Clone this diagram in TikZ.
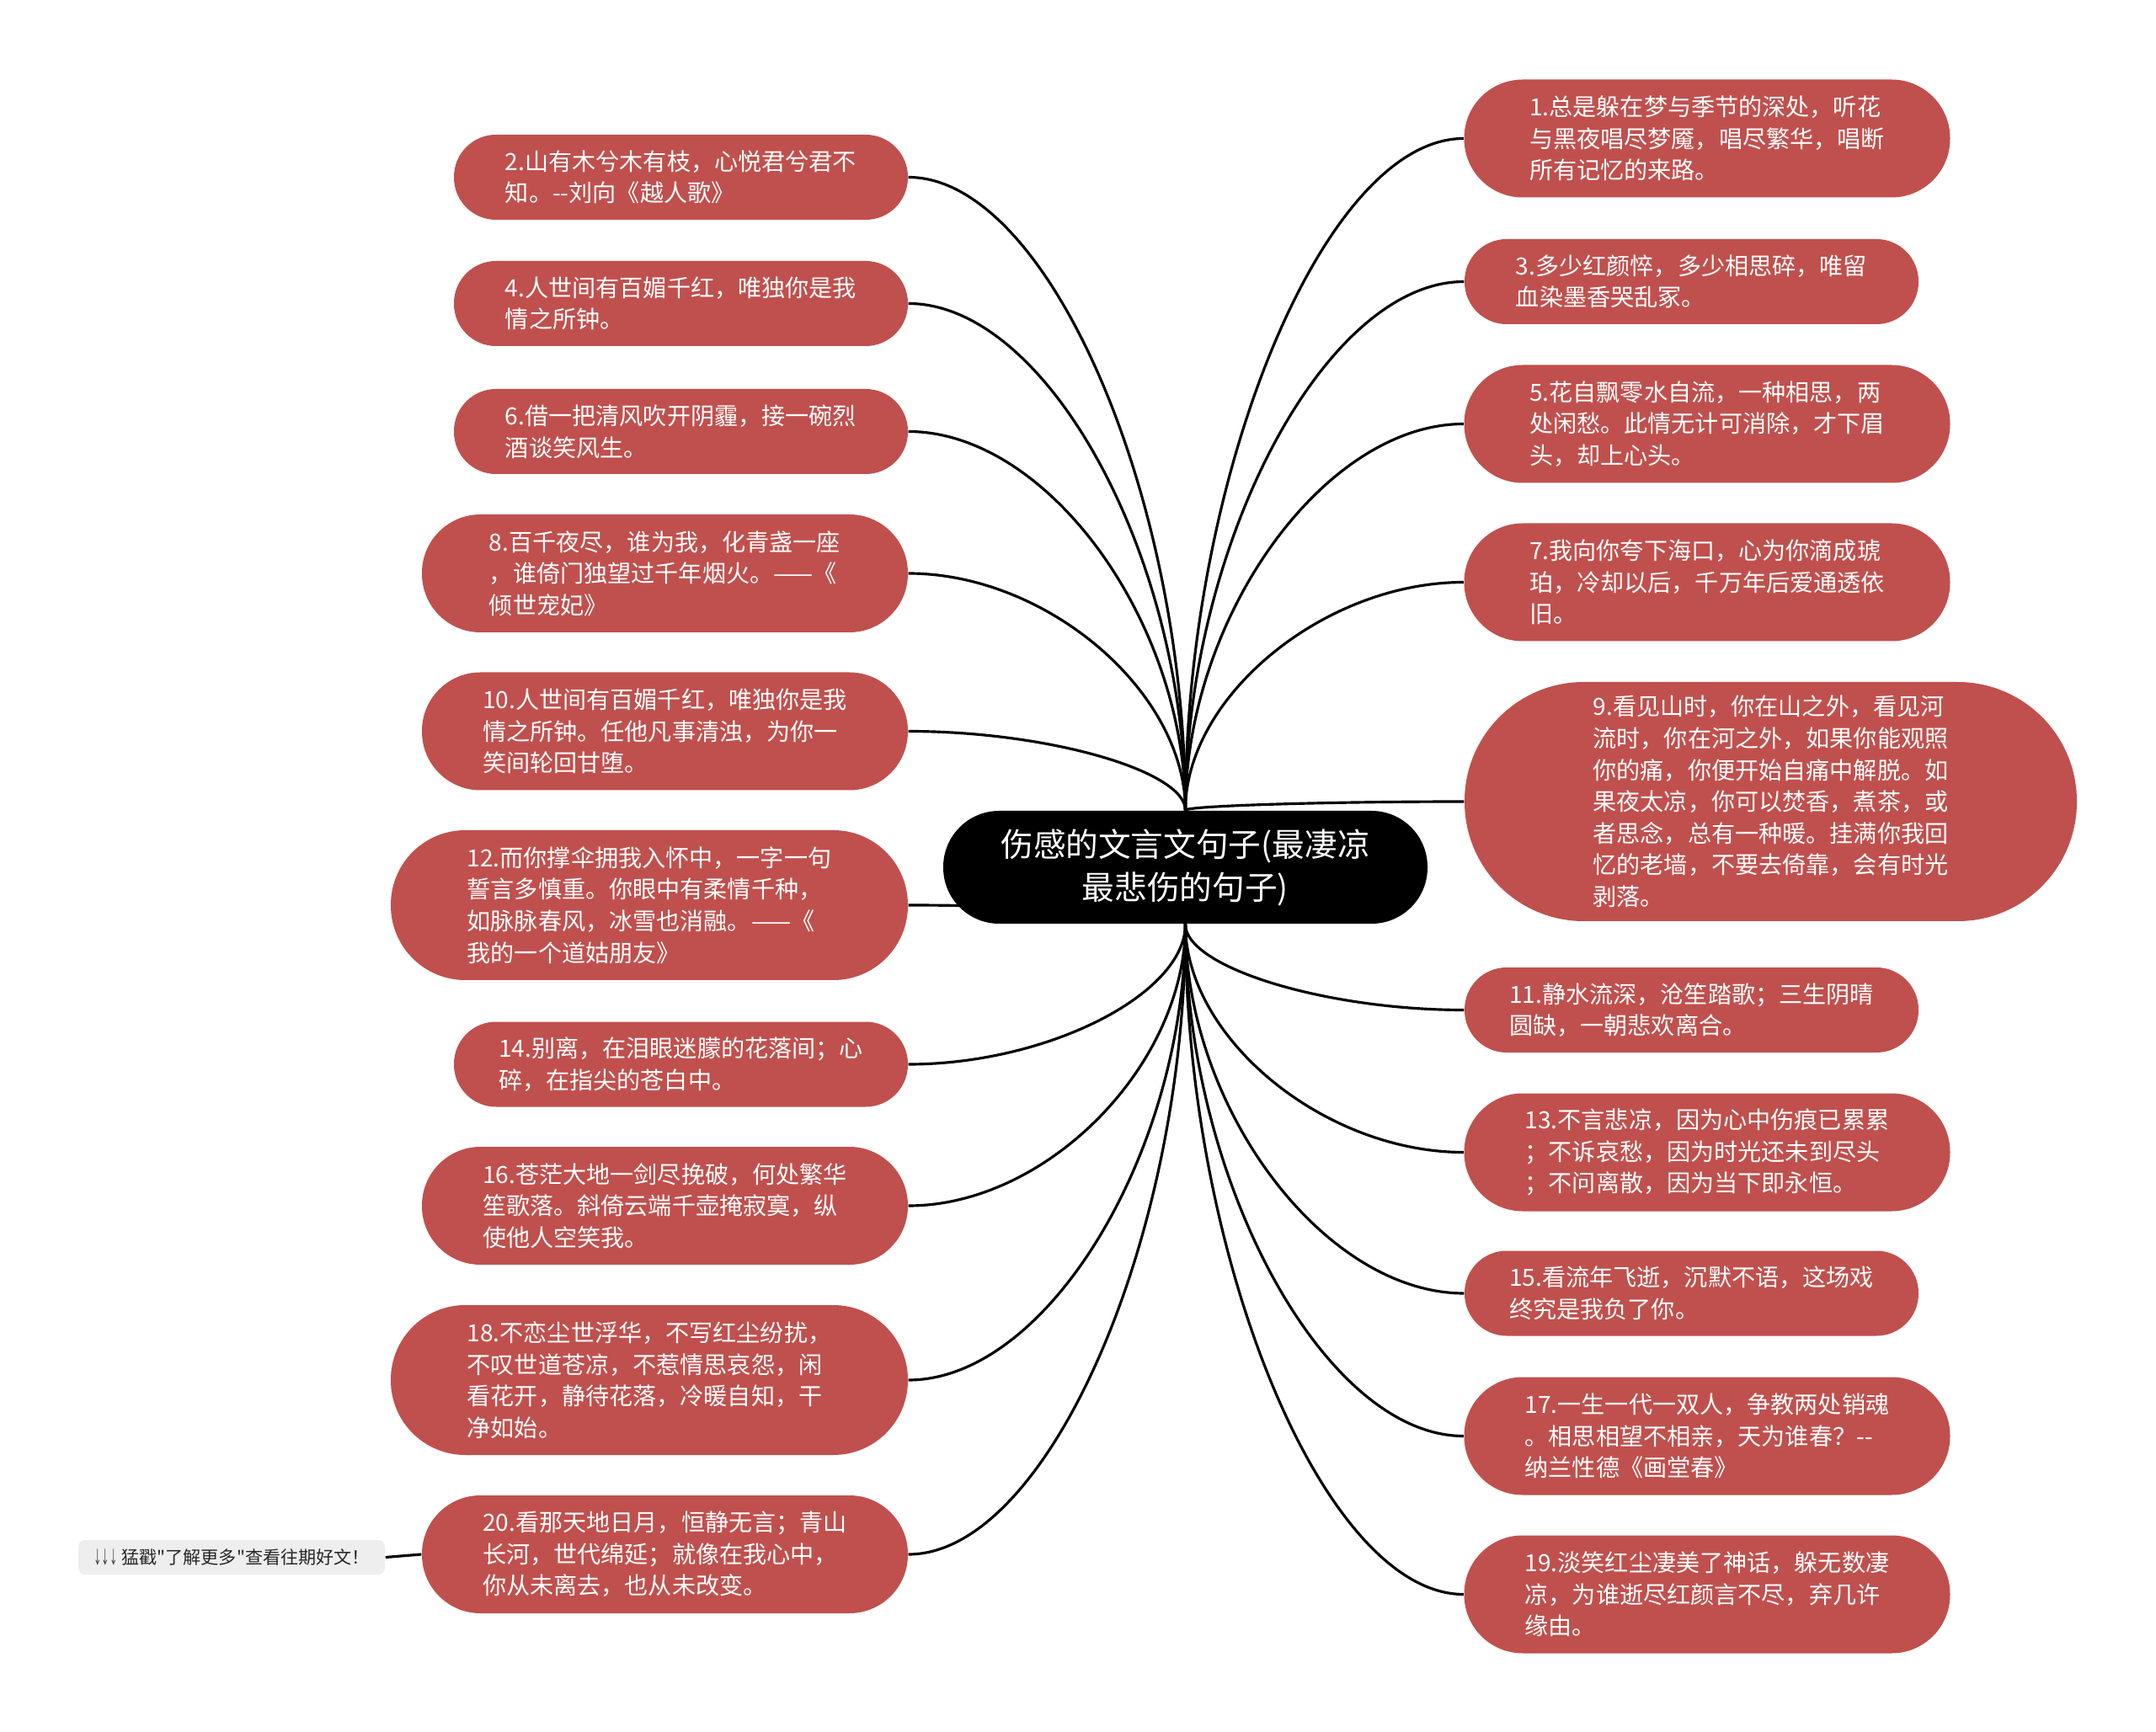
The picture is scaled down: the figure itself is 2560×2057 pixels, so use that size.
\documentclass[tikz,border=0pt]{standalone}
\usepackage{fontspec}
\usepackage{graphicx}
\newfontfamily\cjk{Noto Sans CJK SC}
\usetikzlibrary{calc,backgrounds}
\definecolor{leafred}{HTML}{C0504D}
\definecolor{tipgrey}{HTML}{EEEEEE}
\tikzset{
  leaf/.style={fill=leafred, text=white, align=left, inner sep=0pt,
    font=\cjk\fontsize{8}{10.7}\selectfont},
  smallpill/.style={leaf, minimum width=53.9mm, minimum height=10.1mm, rounded corners=5mm},
  medpill/.style={leaf, minimum width=57.7mm, minimum height=14mm, rounded corners=6.95mm},
  bigpill/.style={leaf, minimum width=61.4mm, minimum height=17.8mm, rounded corners=8.85mm},
  hugepill/.style={leaf, minimum width=72.7mm, minimum height=28.4mm, rounded corners=14.15mm},
  rootnode/.style={fill=black, text=white, align=center, inner sep=0pt,
    minimum width=57.5mm, minimum height=13.4mm, rounded corners=6.65mm,
    font=\cjk\fontsize{11}{14.5}\selectfont},
  tipnode/.style={fill=tipgrey, text=black!85, inner sep=0pt, minimum width=36.4mm,
    minimum height=4.1mm, rounded corners=0.8mm, font=\cjk\fontsize{6}{7}\selectfont},
  edge/.style={draw=black, line width=0.9pt},
}
\newcommand{\conn}[2]{\draw[edge] (#1) .. controls ($(#1)!0.5!(#1 |- #2)$) and ($(#2)!0.5!(#1 |- #2)$) .. (#2);}
\begin{document}
\begin{tikzpicture}[x=0.1mm, y=-0.1mm]
\useasboundingbox (0,0) rectangle (2560,2057);

% root
\node[rootnode] (root) at (1407.5,1030) {伤感的文言文句子(最凄凉\\最悲伤的句子)};

% left column
\node[smallpill] (n2) at (808.5,210.5) {2.山有木兮木有枝，心悦君兮君不\\知。--刘向《越人歌》};
\node[smallpill] (n4) at (808.5,360.5) {4.人世间有百媚千红，唯独你是我\\情之所钟。};
\node[smallpill] (n6) at (808.5,512.5) {6.借一把清风吹开阴霾，接一碗烈\\酒谈笑风生。};
\node[medpill] (n8) at (789.5,681) {8.百千夜尽，谁为我，化青盏一座\\，谁倚门独望过千年烟火。——《\\倾世宠妃》};
\node[medpill] (n10) at (789.5,868.5) {10.人世间有百媚千红，唯独你是我\\情之所钟。任他凡事清浊，为你一\\笑间轮回甘堕。};
\node[bigpill] (n12) at (771,1075) {12.而你撑伞拥我入怀中，一字一句\\誓言多慎重。你眼中有柔情千种，\\如脉脉春风，冰雪也消融。——《\\我的一个道姑朋友》};
\node[smallpill] (n14) at (808.5,1264) {14.别离，在泪眼迷朦的花落间；心\\碎，在指尖的苍白中。};
\node[medpill] (n16) at (789.5,1432) {16.苍茫大地一剑尽挽破，何处繁华\\笙歌落。斜倚云端千壶掩寂寞，纵\\使他人空笑我。};
\node[bigpill] (n18) at (771,1639) {18.不恋尘世浮华，不写红尘纷扰，\\不叹世道苍凉，不惹情思哀怨，闲\\看花开，静待花落，冷暖自知，干\\净如始。};
\node[medpill] (n20) at (789.5,1846) {20.看那天地日月，恒静无言；青山\\长河，世代绵延；就像在我心中，\\你从未离去，也从未改变。};
\node[tipnode] (tip) at (275,1849.5) {\scalebox{0.45}[1]{↓↓↓} 猛戳"了解更多"查看往期好文！};

% right column
\node[medpill] (n1) at (2027,164.5) {1.总是躲在梦与季节的深处，听花\\与黑夜唱尽梦魇，唱尽繁华，唱断\\所有记忆的来路。};
\node[smallpill] (n3) at (2008.5,334.5) {3.多少红颜悴，多少相思碎，唯留\\血染墨香哭乱冢。};
\node[medpill] (n5) at (2027,503.5) {5.花自飘零水自流，一种相思，两\\处闲愁。此情无计可消除，才下眉\\头，却上心头。};
\node[medpill] (n7) at (2027,691.5) {7.我向你夸下海口，心为你滴成琥\\珀，冷却以后，千万年后爱通透依\\旧。};
\node[hugepill] (n9) at (2102.5,952) {9.看见山时，你在山之外，看见河\\流时，你在河之外，如果你能观照\\你的痛，你便开始自痛中解脱。如\\果夜太凉，你可以焚香，煮茶，或\\者思念，总有一种暖。挂满你我回\\忆的老墙，不要去倚靠，会有时光\\剥落。};
\node[smallpill] (n11) at (2008.5,1199.5) {11.静水流深，沧笙踏歌；三生阴晴\\圆缺，一朝悲欢离合。};
\node[medpill] (n13) at (2027,1368.5) {13.不言悲凉，因为心中伤痕已累累\\；不诉哀愁，因为时光还未到尽头\\；不问离散，因为当下即永恒。};
\node[smallpill] (n15) at (2008.5,1536) {15.看流年飞逝，沉默不语，这场戏\\终究是我负了你。};
\node[medpill] (n17) at (2027,1705.5) {17.一生一代一双人，争教两处销魂\\。相思相望不相亲，天为谁春？--\\纳兰性德《画堂春》};
\node[medpill] (n19) at (2027,1893.5) {19.淡笑红尘凄美了神话，躲无数凄\\凉，为谁逝尽红颜言不尽，弃几许\\缘由。};

\begin{pgfonlayer}{background}
  \fill[white] (0,0) rectangle (2560,2057);
  \conn{root.north}{n2.east}
  \conn{root.north}{n4.east}
  \conn{root.north}{n6.east}
  \conn{root.north}{n8.east}
  \conn{root.north}{n10.east}
  \conn{root.south}{n12.east}
  \conn{root.south}{n14.east}
  \conn{root.south}{n16.east}
  \conn{root.south}{n18.east}
  \conn{root.south}{n20.east}
  \conn{root.north}{n1.west}
  \conn{root.north}{n3.west}
  \conn{root.north}{n5.west}
  \conn{root.north}{n7.west}
  \conn{root.north}{n9.west}
  \conn{root.south}{n11.west}
  \conn{root.south}{n13.west}
  \conn{root.south}{n15.west}
  \conn{root.south}{n17.west}
  \conn{root.south}{n19.west}
  \draw[edge] (tip.east) -- (n20.west);
\end{pgfonlayer}
\end{tikzpicture}
\end{document}
